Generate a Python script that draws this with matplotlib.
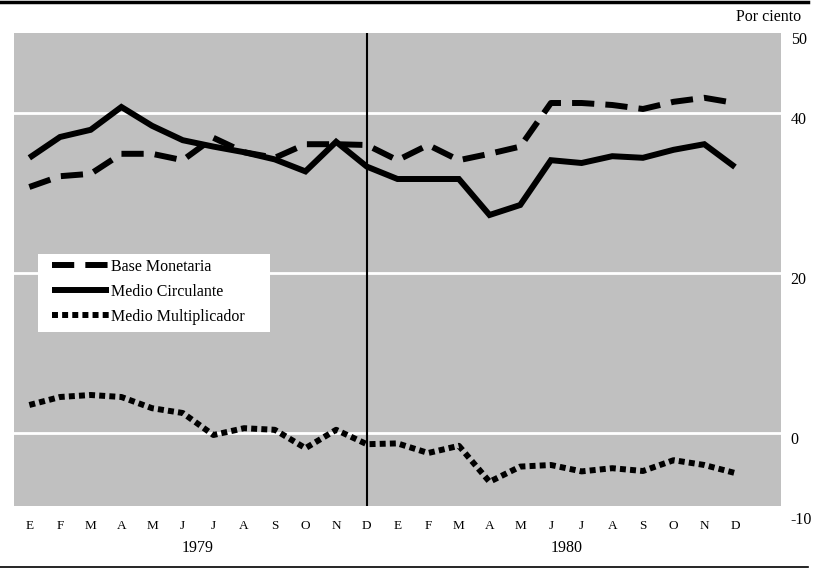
import matplotlib
matplotlib.use('Agg')
import matplotlib.pyplot as plt
import matplotlib.transforms as mtransforms
from matplotlib.lines import Line2D
from matplotlib.patches import Rectangle

plt.rcParams['font.family'] = ['Liberation Serif', 'DejaVu Serif']
plt.rcParams['lines.scale_dashes'] = False

# Datos (por ciento), enero 1979 - diciembre 1980
meses = ['E', 'F', 'M', 'A', 'M', 'J', 'J', 'A', 'S', 'O', 'N', 'D'] * 2
anios = ['1979', '1980']
base_monetaria = [30.75, 32.1, 32.4, 34.9, 34.9, 34.1, 36.9, 35.1, 34.4, 36.1, 36.1, 36.0,
                  34.1, 36.0, 34.1, 34.9, 35.8, 41.25, 41.25, 41.0, 40.5, 41.4, 41.9, 41.25]
medio_circulante = [34.4, 37.0, 37.9, 40.75, 38.4, 36.6, 35.8, 35.1, 34.2, 32.7, 36.4, 33.3,
                    31.75, 31.75, 31.75, 27.25, 28.5, 34.1, 33.75, 34.6, 34.4, 35.4, 36.1, 33.25]
multiplicador = [3.5, 4.5, 4.75, 4.5, 3.1, 2.5, -0.25, 0.6, 0.4, -1.9, 0.4, -1.4,
                 -1.3, -2.5, -1.6, -6.1, -4.2, -4.0, -4.8, -4.4, -4.75, -3.4, -4.0, -5.0]
yticks = [50, 40, 20, 0, -10]
grid_vals = [40, 20, 0]

fig = plt.figure(figsize=(8.17, 5.69), dpi=100)
ax = fig.add_axes([14 / 817, 1 - 513 / 569, 767 / 817, 480 / 569])
ax.set_facecolor('white')

x = list(range(len(meses)))
gris = '#c0c0c0'
lw = 4.3

# fondo gris (termina un poco antes de -10)
ax.axhspan(-9.1, 50, color=gris, zorder=0, lw=0)
for g in grid_vals:
    ax.axhline(g, color='white', lw=2, zorder=1)

ax.plot(x, base_monetaria, color='black', lw=lw, dashes=(16, 8), dash_capstyle='butt',
        label='Base Monetaria', zorder=3)
ax.plot(x, medio_circulante, color='black', lw=lw, solid_joinstyle='miter',
        solid_capstyle='butt', label='Medio Circulante', zorder=3)
ax.plot(x, multiplicador, color='black', lw=lw, dashes=(4.3, 3), dash_capstyle='butt',
        label='Medio Multiplicador', zorder=3)

# linea vertical en diciembre 1979
ax.vlines(11, -9.1, 50, color='black', lw=1.5, zorder=4)

ax.set_xlim(-0.5, 24.5)
ax.set_ylim(-10, 50)
for s in ax.spines.values():
    s.set_visible(False)

ax.set_xticks(x)
ax.set_xticklabels(meses, fontsize=9.5)
ax.tick_params(axis='x', length=0, pad=5)

ax.yaxis.tick_right()
ax.set_yticks(yticks)
ax.set_yticklabels([str(v) for v in yticks], fontsize=11.5)
ax.tick_params(axis='y', length=0, pad=7)
off = mtransforms.ScaledTranslation(0, -5 / 100, fig.dpi_scale_trans)
for lbl in ax.get_yticklabels():
    lbl.set_transform(lbl.get_transform() + off)
    lbl.set_horizontalalignment('left')

trans = mtransforms.blended_transform_factory(ax.transData, fig.transFigure)
for i, a in enumerate(anios):
    ax.text(5.5 + 12 * i, 1 - 548 / 569, a, transform=trans, ha='center', va='center',
            fontsize=11.5)

fig.text(801 / 817, 1 - 17 / 569, 'Por ciento', ha='right', va='center', fontsize=11.5)

# lineas superior e inferior
fig.add_artist(Line2D([0, 808 / 817], [1 - 1.5 / 569] * 2, color='black', lw=2.5,
                      transform=fig.transFigure))
fig.add_artist(Line2D([0, 808 / 817], [1 - 567 / 569] * 2, color='black', lw=1.2,
                      transform=fig.transFigure))

# caja blanca de la leyenda
ax.add_patch(Rectangle((24 / 767, (513 - 332) / 480), 232 / 767, 78 / 480,
                       transform=ax.transAxes, facecolor='white', edgecolor='none', zorder=5))
leg = ax.legend(loc='upper left', bbox_to_anchor=(38 / 767, (513 - 259) / 480),
                borderaxespad=0, borderpad=0, frameon=False, fontsize=11.5,
                handlelength=3.6, handletextpad=0.12, labelspacing=0.56)
leg.set_zorder(6)

fig.savefig('out.png', dpi=100)
